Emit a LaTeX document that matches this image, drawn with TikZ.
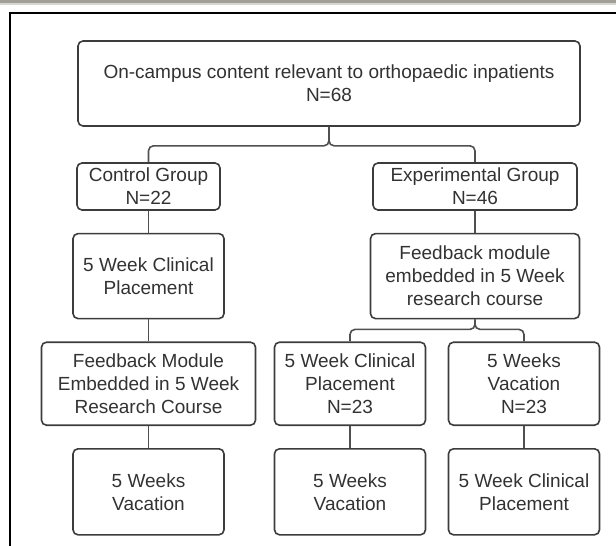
\documentclass[tikz,border=0pt]{standalone}
\usepackage{fontspec}
\setmainfont{Liberation Sans}
\usetikzlibrary{positioning}
\definecolor{boxline}{RGB}{60,60,60}
\definecolor{conline}{RGB}{80,80,80}
\definecolor{textgray}{RGB}{50,50,50}
\definecolor{topbar}{RGB}{160,160,152}
\definecolor{topbarlight}{RGB}{215,215,210}

\begin{document}
\begin{tikzpicture}[
    node distance=22pt,
    box/.style={draw=boxline, line width=1.6pt, rounded corners=5pt, align=center, text=textgray, inner sep=1.5pt, font=\fontsize{19pt}{23pt}\selectfont},
    groupbox/.style={box, minimum height=47pt},
    tallbox/.style={box, minimum width=151pt, minimum height=85pt},
    conn/.style={draw=conline, line width=1.6pt, rounded corners=5pt},
]
    \useasboundingbox (0,0) rectangle (616pt,-546pt);

    % page frame
    \fill[topbar] (0,0) rectangle (616pt,-3pt);
    \fill[topbarlight] (0,-3pt) rectangle (616pt,-5pt);
    \draw[black, line width=2.4pt] (10pt,-546pt) -- (10pt,-13pt) -- (616pt,-13pt);

    \node[box, minimum width=502pt, minimum height=85pt] (cohort) at (329pt,-83.5pt) {On-campus content relevant to orthopaedic inpatients\\N=68};

    % control arm
    \node[groupbox, minimum width=143pt] (ctrl) at (148.5pt,-186.5pt) {Control Group\\N=22};
    \node[tallbox, below=of ctrl] (ctrlclin) {5 Week Clinical\\Placement};
    \node[box, minimum width=214pt, minimum height=83pt, below=of ctrlclin] (ctrlfb) {Feedback Module\\Embedded in 5 Week\\Research Course};
    \node[tallbox, minimum height=86pt, below=of ctrlfb] (ctrlvac) {5 Weeks\\Vacation};

    % experimental arm
    \node[groupbox, minimum width=204pt] (exp) at (475pt,-186.5pt) {Experimental Group\\N=46};
    \node[box, minimum width=209pt, minimum height=85pt, below=of exp] (expfb) {Feedback module\\embedded in 5 Week\\research course};
    \node[tallbox, minimum height=83pt, below=of expfb, xshift=-125pt] (expclin) {5 Week Clinical\\Placement\\N=23};
    \node[tallbox, minimum height=83pt, below=of expfb, xshift=49pt] (expvac) {5 Weeks\\Vacation\\N=23};
    \node[tallbox, minimum height=86pt, below=of expclin] (clinvac) {5 Weeks\\Vacation};
    \node[tallbox, minimum height=86pt, below=of expvac] (vacclin) {5 Week Clinical\\Placement};

    \draw[conn] (cohort.south) -- ++(0,-19pt) -| (ctrl.north);
    \draw[conn] (cohort.south) -- ++(0,-19pt) -| (exp.north);
    \draw[conn] (ctrl) -- (ctrlclin);
    \draw[conn] (ctrlclin) -- (ctrlfb);
    \draw[conn] (ctrlfb) -- (ctrlvac);
    \draw[conn] (exp) -- (expfb);
    \draw[conn] (expfb.south) -- ++(0,-10pt) -| (expclin.north);
    \draw[conn] (expfb.south) -- ++(0,-10pt) -| (expvac.north);
    \draw[conn] (expclin) -- (clinvac);
    \draw[conn] (expvac) -- (vacclin);

\end{tikzpicture}
\end{document}
